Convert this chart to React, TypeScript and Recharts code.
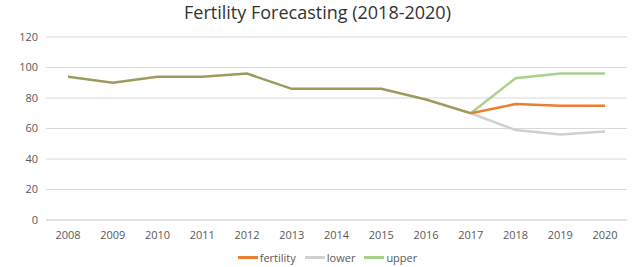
import { LineChart, Line, XAxis, YAxis, CartesianGrid, Legend } from "recharts";

const years = ["2008", "2009", "2010", "2011", "2012", "2013", "2014", "2015", "2016", "2017", "2018", "2019", "2020"];
const history = [94, 90, 94, 94, 96, 86, 86, 86, 79, 70, null, null, null];
const fertility = [null, null, null, null, null, null, null, null, null, 70, 76, 75, 75];
const lower = [null, null, null, null, null, null, null, null, null, 70, 59, 56, 58];
const upper = [null, null, null, null, null, null, null, null, null, 70, 93, 96, 96];
const yTicks = [0, 20, 40, 60, 80, 100, 120];

const data = years.map((year, i) => ({
  year,
  history: history[i],
  fertility: fertility[i],
  lower: lower[i],
  upper: upper[i],
}));

const font = "'Open Sans', sans-serif";

function LegendContent({ payload }: any) {
  const items = (payload || []).filter((p: any) => p.type !== "none");
  return (
    <div style={{ display: "flex", justifyContent: "center", gap: 9, paddingLeft: 28, fontSize: 11, color: "#595959", fontFamily: font }}>
      {items.map((p: any) => (
        <div key={p.value} style={{ display: "flex", alignItems: "center" }}>
          <span style={{ display: "inline-block", width: 20, height: 2.5, background: p.color, marginRight: 2 }} />
          <span>{p.value}</span>
        </div>
      ))}
    </div>
  );
}

export default function App() {
  return (
    <div style={{ position: "absolute", left: 0, top: 0, width: 635, height: 267, background: "#fff", fontFamily: font }}>
      <div
        style={{
          position: "absolute",
          top: 0,
          width: 635,
          textAlign: "center",
          fontSize: 18,
          color: "#333",
        }}
      >
        Fertility Forecasting (2018-2020)
      </div>
      <LineChart width={635} height={267} data={data} margin={{ top: 37, right: 8, left: 0, bottom: 0 }}>
        <CartesianGrid vertical={false} stroke="#d9d9d9" />
        <XAxis
          dataKey="year"
          tickLine={false}
          axisLine={{ stroke: "#d9d9d9" }}
          tick={{ fontSize: 11, fill: "#595959", fontFamily: font }}
          tickMargin={5}
          padding={{ left: 22, right: 22 }}
          height={32}
        />
        <YAxis
          domain={[0, 120]}
          ticks={yTicks}
          tickLine={false}
          axisLine={false}
          width={46}
          tick={{ fontSize: 11, fill: "#595959", fontFamily: font }}
        />
        <Legend content={<LegendContent />} wrapperStyle={{ bottom: 2 }} />
        <Line dataKey="lower" name="lower" stroke="#d0d0d0" strokeWidth={2.5} dot={false} isAnimationActive={false} legendType="plainline" />
        <Line dataKey="upper" name="upper" stroke="#a9d18e" strokeWidth={2.5} dot={false} isAnimationActive={false} legendType="plainline" />
        <Line dataKey="fertility" name="fertility" stroke="#ed7d31" strokeWidth={2.5} dot={false} isAnimationActive={false} legendType="plainline" />
        <Line dataKey="history" stroke="#9e9a5c" strokeWidth={2.5} dot={false} isAnimationActive={false} legendType="none" />
      </LineChart>
    </div>
  );
}
